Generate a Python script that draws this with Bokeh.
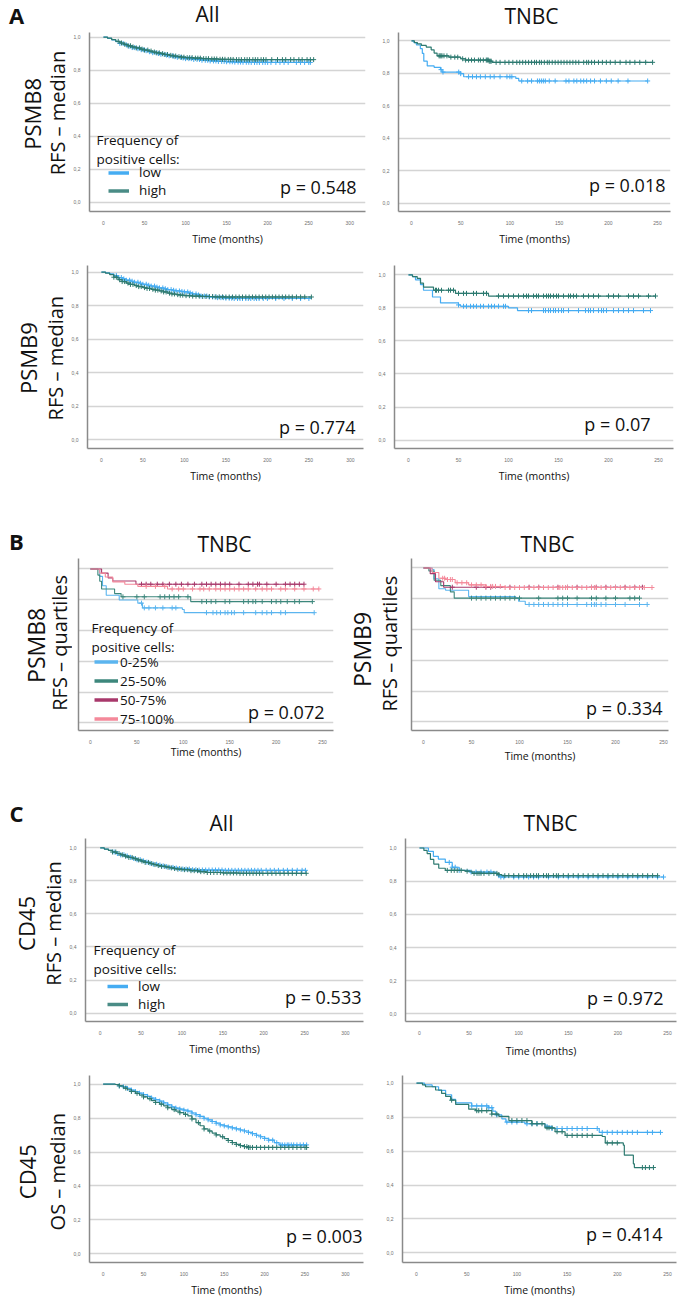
import numpy as np
from bokeh.plotting import figure
from bokeh.layouts import column, row
from bokeh.models import Range1d, FixedTicker, CustomJSTickFormatter, Label, Legend, LegendItem
from bokeh.embed import file_html
from bokeh.resources import INLINE

# ---------------- data ----------------
Y_TICKS = [0.0, 0.2, 0.4, 0.6, 0.8, 1.0]
X_TICKS_ALL = [0, 50, 100, 150, 200, 250, 300]
X_TICKS_TNBC = [0, 50, 100, 150, 200, 250]
GROUPS_MEDIAN = ["low", "high"]
GROUPS_QUART = ["0-25%", "25-50%", "50-75%", "75-100%"]
P_VALUES = {"a1l": "p = 0.548", "a1r": "p = 0.018", "a2l": "p = 0.774", "a2r": "p = 0.07",
            "bl": "p = 0.072", "br": "p = 0.334", "c1l": "p = 0.533", "c1r": "p = 0.972",
            "c2l": "p = 0.003", "c2r": "p = 0.414"}

# A1 left: All, PSMB8, RFS median
a1l_high_t = [0,5,10,15,20,25,30,35,40,45,50,55,60,65,70,75,80,85,90,95,100,110,120,130,140,150,160,256]
a1l_high_s = [1.0,0.994,0.985,0.975,0.965,0.957,0.948,0.941,0.935,0.928,0.922,0.916,0.910,0.905,0.900,0.895,0.890,0.886,0.882,0.879,0.876,0.873,0.870,0.868,0.866,0.865,0.864,0.864]
a1l_high_c = [18,22,26,30,33,36,40,44,47,50,54,58,62,65,68,72,75,78,82,85,88,92,95,98,102,105,108,112,115,118,122,125,128,132,135,138,142,145,148,152,155,158,162,165,168,172,175,178,182,185,188,192,195,198,205,212,218,222,228,232,238,242,248,252,256]
a1l_low_t = [0,5,10,15,20,25,30,35,40,45,50,55,60,65,70,75,80,85,90,95,100,110,120,130,140,150,160,170,180,252]
a1l_low_s = [1.0,0.993,0.984,0.973,0.962,0.953,0.945,0.937,0.930,0.924,0.918,0.912,0.906,0.901,0.896,0.891,0.887,0.882,0.878,0.874,0.870,0.865,0.860,0.856,0.853,0.851,0.849,0.848,0.847,0.847]
a1l_low_c = [20,24,28,31,35,38,42,46,49,52,56,60,64,67,70,74,77,80,84,87,90,94,97,100,104,107,110,114,117,120,124,127,130,134,137,140,144,147,150,154,157,160,164,167,170,174,177,180,184,187,190,194,197,200,204,210,215,220,225,235,240,245,250,252]

# A1 right: TNBC, PSMB8
a1r_high_t = [0,3,6,10,15,20,23,26,38,50,55,79,82,245]
a1r_high_s = [1.0,0.99,0.982,0.972,0.962,0.945,0.925,0.908,0.90,0.89,0.882,0.875,0.868,0.868]
a1r_high_c = [28,29,30,31,33,36,40,44,47,52,55,58,61,64,68,70,73,76,77,78,79,80,81,86,90,95,99,103,107,110,113,116,119,122,125,127,130,132,135,138,140,143,146,149,152,155,158,161,164,167,170,175,178,180,183,186,190,194,198,202,207,212,218,222,227,232,238,245]
a1r_low_t = [0,2.4,5,9,11,12.5,16,23,29.5,31,50,53,106,109,240]
a1r_low_s = [1.0,0.99,0.975,0.952,0.923,0.875,0.846,0.837,0.823,0.808,0.798,0.779,0.769,0.753,0.753]
a1r_low_c = [30,32,48,50,58,62,66,70,75,80,84,90,97,100,102,112,118,122,128,130,132,134,136,140,146,157,160,165,168,172,175,178,182,186,192,198,203,210,220,240]

# A2 left: All, PSMB9
a2l_high_t = [0,5,10,15,20,25,30,35,40,45,50,55,60,65,70,75,80,85,90,95,100,110,120,135,150,253]
a2l_high_s = [1.0,0.994,0.985,0.97,0.955,0.944,0.935,0.927,0.92,0.914,0.908,0.903,0.898,0.893,0.888,0.882,0.875,0.870,0.866,0.863,0.860,0.857,0.855,0.853,0.852,0.852]
a2l_high_c = [15,18,22,25,28,32,35,38,42,45,48,52,55,58,62,65,68,72,75,78,82,85,88,92,95,98,102,106,110,114,118,122,126,130,134,138,142,146,150,154,158,162,166,170,174,178,182,186,190,194,198,202,206,210,214,218,222,226,230,235,240,245,253]
a2l_low_t = [0,5,10,15,20,25,30,35,40,45,50,55,60,65,70,75,80,85,90,95,100,105,110,115,120,130,140,150,160,250]
a2l_low_s = [1.0,0.996,0.99,0.98,0.968,0.96,0.952,0.946,0.94,0.934,0.928,0.922,0.917,0.911,0.906,0.901,0.896,0.892,0.888,0.885,0.882,0.876,0.870,0.864,0.858,0.852,0.848,0.845,0.843,0.843]
a2l_low_c = [18,21,24,27,30,34,37,40,44,47,50,54,57,60,64,67,70,74,77,80,84,87,90,94,97,100,104,107,110,114,117,120,124,127,130,134,137,140,144,147,150,154,157,160,164,167,170,174,177,180,184,187,190,195,200,210,220,230,240,250]

# A2 right: TNBC, PSMB9
a2r_high_t = [0,4,8.7,12,15,25,47,80,247]
a2r_high_s = [1.0,0.99,0.979,0.95,0.926,0.907,0.888,0.872,0.872]
a2r_high_c = [27,28,30,33,40,42,45,50,55,58,65,68,75,78,90,95,100,105,110,115,118,120,125,128,130,135,138,140,142,145,148,150,155,160,162,165,168,175,180,185,190,200,205,210,220,225,230,240,247]
a2r_low_t = [0,4,7,12,15,24,32,50,52,100,109,242]
a2r_low_s = [1.0,0.99,0.97,0.941,0.907,0.866,0.83,0.818,0.81,0.80,0.784,0.784]
a2r_low_c = [50,55,58,62,65,68,72,75,80,83,86,90,95,97,120,123,135,137,140,142,145,147,150,153,155,160,170,177,180,182,185,190,193,195,198,205,210,215,220,225,235,242]

# B left: TNBC, PSMB8 quartiles
bl_q1_t = [0,10,13,17,31,51,56,99,101,241]
bl_q1_s = [1.0,0.952,0.891,0.829,0.798,0.778,0.747,0.737,0.716,0.716]
bl_q1_c = [55,58,63,70,78,88,92,125,132,136,140,145,148,152,155,165,178,185,190,195,205,210,241]
bl_q2_t = [0,8,10,12,26,33,108,239]
bl_q2_s = [1.0,0.96,0.92,0.87,0.84,0.819,0.788,0.788]
bl_q2_c = [35,50,58,75,80,85,90,95,105,120,125,130,135,145,150,165,170,175,178,185,195,200,205,212,220,225,239]
bl_q3_t = [0,12,19,24,49,230]
bl_q3_s = [1.0,0.973,0.942,0.922,0.901,0.901]
bl_q3_c = [55,60,65,72,78,85,92,98,105,112,120,125,130,135,140,145,150,160,170,175,180,182,190,200,210,215,220,225,230]
bl_q4_t = [0,10,16,24,37,51,83,246]
bl_q4_s = [1.0,0.973,0.948,0.916,0.901,0.887,0.870,0.870]
bl_q4_c = [60,70,80,88,95,100,110,118,122,128,135,140,145,150,155,160,165,170,178,185,190,195,205,210,220,230,240,246]

# B right: TNBC, PSMB9 quartiles
br_q1_t = [0,9,11,16,23,47,96,99,106,233]
br_q1_s = [1.0,0.99,0.93,0.865,0.855,0.814,0.804,0.784,0.763,0.763]
br_q1_c = [110,115,120,125,130,135,140,145,150,160,170,175,178,180,185,190,200,210,225,233]
br_q2_t = [0,5.6,11,18,28,32,225]
br_q2_s = [1.0,0.98,0.92,0.885,0.845,0.804,0.804]
br_q2_c = [50,55,60,65,70,75,80,85,90,95,100,120,140,145,150,160,175,180,190,200,215,220,225]
br_q3_t = [0,7,12.5,21,228]
br_q3_s = [1.0,0.963,0.91,0.875,0.875]
br_q3_c = [30,55,65,70,90,110,120,140,150,160,175,180,190,200,210,220,228]
br_q4_t = [0,9,16,23,33,47,65,85,238]
br_q4_s = [1.0,0.97,0.933,0.925,0.904,0.89,0.88,0.873,0.873]
br_q4_c = [20,22,25,28,30,35,40,45,50,55,60,65,70,72,75,80,85,90,95,100,105,110,115,120,125,130,135,140,142,145,148,150,155,160,165,170,175,178,180,185,190,195,200,205,210,215,220,225,230,238]

# C1 left: All, CD45 RFS
c1l_high_t = [0,5,10,15,20,25,30,35,40,45,50,55,60,65,70,75,80,85,90,95,100,110,120,130,150,170,252]
c1l_high_s = [1.0,0.993,0.985,0.975,0.966,0.958,0.95,0.942,0.935,0.927,0.92,0.912,0.905,0.899,0.893,0.888,0.883,0.879,0.875,0.871,0.868,0.862,0.856,0.851,0.848,0.846,0.846]
c1l_high_c = [15,19,23,27,31,35,39,43,47,51,55,59,63,67,71,75,79,83,87,91,95,99,103,107,111,115,119,123,127,131,135,139,143,147,151,155,159,163,167,171,175,179,183,187,191,195,199,205,210,215,220,225,230,235,240,246,252]
c1l_low_t = [0,5,10,15,20,25,30,35,40,45,50,55,60,65,70,75,80,85,90,95,100,110,120,150,251]
c1l_low_s = [1.0,0.993,0.985,0.975,0.966,0.958,0.951,0.943,0.936,0.928,0.921,0.914,0.907,0.901,0.896,0.891,0.886,0.882,0.878,0.875,0.872,0.868,0.866,0.864,0.864]
c1l_low_c = [17,21,25,29,33,37,41,45,49,53,57,61,65,69,73,77,81,85,89,93,97,101,105,109,113,117,121,125,129,133,137,141,145,149,153,157,161,165,169,173,177,181,185,189,193,197,203,208,213,218,224,229,235,241,247,251]

# C1 right: TNBC, CD45 RFS
c1r_high_t = [0,4.4,7.7,11,14.4,19.4,26,46,53,80,83,240]
c1r_high_s = [1.0,0.985,0.966,0.931,0.903,0.878,0.865,0.86,0.847,0.84,0.833,0.833]
c1r_high_c = [28,32,35,38,42,48,55,58,60,62,65,70,75,78,80,86,90,95,100,105,108,112,115,118,120,125,128,130,135,138,140,145,150,155,160,165,170,175,180,185,190,195,200,205,210,215,220,225,230,235,240]
c1r_low_t = [0,9,14,19,26,33,40,51,77,80,82,246]
c1r_low_s = [1.0,0.98,0.95,0.933,0.913,0.884,0.865,0.855,0.845,0.833,0.825,0.825]
c1r_low_c = [30,33,36,40,52,57,62,68,72,80,82,85,95,100,105,110,115,120,130,140,150,160,170,180,190,200,210,220,230,240,246]

# C2 left: All, CD45 OS
c2l_low_t = [0,15,20,25,30,35,40,45,50,55,60,65,70,75,80,85,90,95,100,105,110,115,120,125,130,135,140,145,150,155,160,165,170,175,180,185,190,195,200,205,212,218,252]
c2l_low_s = [1.0,0.998,0.99,0.985,0.975,0.965,0.956,0.947,0.938,0.928,0.918,0.909,0.9,0.89,0.878,0.866,0.859,0.853,0.847,0.841,0.83,0.82,0.81,0.799,0.79,0.78,0.77,0.76,0.754,0.748,0.742,0.736,0.73,0.724,0.716,0.708,0.699,0.69,0.68,0.67,0.655,0.642,0.642]
c2l_low_c = [20,25,30,35,40,45,50,55,60,65,70,75,80,85,90,95,100,105,110,115,120,125,130,135,140,145,150,155,160,165,170,175,180,185,190,195,200,205,210,215,220,222,225,228,230,233,236,240,244,248,252]
c2l_high_t = [0,15,20,25,30,35,40,45,50,55,60,65,70,75,80,85,90,95,100,105,110,115,120,125,130,135,140,145,150,155,160,165,170,175,180,252]
c2l_high_s = [1.0,0.998,0.99,0.977,0.967,0.957,0.946,0.936,0.925,0.914,0.903,0.892,0.882,0.872,0.861,0.85,0.841,0.832,0.822,0.813,0.795,0.773,0.755,0.736,0.724,0.712,0.701,0.69,0.679,0.668,0.656,0.645,0.638,0.632,0.627,0.627]
c2l_high_c = [20,28,35,42,50,58,65,72,80,88,95,102,110,118,125,132,140,148,155,160,165,170,175,178,180,182,185,190,195,200,205,210,215,220,225,230,235,240,245,250,252]

# C2 right: TNBC, CD45 OS
c2r_low_t = [0,8,15.6,22,29,35,39,55,72,76,79,85,89,108,128,135,182,243]
c2r_low_s = [1.0,0.99,0.979,0.958,0.932,0.905,0.884,0.866,0.856,0.835,0.813,0.79,0.771,0.761,0.745,0.733,0.71,0.71]
c2r_low_c = [55,60,65,70,72,75,80,90,95,100,110,115,120,130,135,140,145,150,155,160,165,170,180,185,190,195,200,205,210,215,220,230,235,243]
c2r_high_t = [0,6,9,19,25,29,34,39,52,59,75,82,92,115,128,138,148,185,188,206,207,216,217,236]
c2r_high_s = [1.0,0.99,0.979,0.96,0.94,0.922,0.9,0.875,0.847,0.838,0.818,0.805,0.78,0.761,0.737,0.714,0.692,0.686,0.648,0.635,0.576,0.525,0.503,0.503]
c2r_high_c = [35,60,62,65,70,75,80,95,100,105,110,115,120,125,130,132,135,140,145,150,155,160,165,170,175,190,195,200,225,228,232,236]

# ---------------- style / layout ----------------
BLUE = "#45acf2"
TEAL = "#2d7a70"
LEG_TEAL = "#4a8c86"
Q_COLORS = ["#5bb5ef", "#3d877c", "#a8386b", "#f4899a"]
FONT = "Open Sans"
TXT = "#111111"

# page geometry (px): fig box (x, y, w, h), frame (L, R, T, B),
# x: (px at t=0, px per month), y: (px at 1.0, px at 0.0), offset of "Time" label below axis
GEOM = {
    "a1l": dict(fig=(70, 28, 302, 220), frame=(88, 365, 32, 222), x=(102, 0.824), y=(37, 212), tl=19),
    "a1r": dict(fig=(372, 28, 313, 220), frame=(398, 670, 31, 222), x=(411, 0.984), y=(40, 213), tl=20),
    "a2l": dict(fig=(68, 248, 304, 237), frame=(85, 363, 265, 457), x=(99, 0.836), y=(272, 448), tl=20),
    "a2r": dict(fig=(372, 248, 313, 237), frame=(394, 673, 263, 458), x=(408, 1.0), y=(273, 449), tl=20),
    "bl": dict(fig=(72, 557, 273, 208), frame=(77, 333, 558, 739), x=(89, 0.932), y=(569, 731), tl=14),
    "br": dict(fig=(402, 557, 283, 208), frame=(411, 668, 558, 740), x=(423, 0.96), y=(568, 731), tl=17),
    "c1l": dict(fig=(66, 836, 306, 224), frame=(80, 363, 837, 1032), x=(95, 0.832), y=(847, 1023), tl=20),
    "c1r": dict(fig=(372, 836, 313, 224), frame=(405, 676, 838, 1031), x=(419, 0.992), y=(848, 1023), tl=22),
    "c2l": dict(fig=(70, 1060, 302, 239), frame=(82, 363, 1073, 1267), x=(96, 0.828), y=(1082, 1258), tl=20),
    "c2r": dict(fig=(372, 1060, 313, 239), frame=(402, 676, 1075, 1269), x=(416, 1.004), y=(1083, 1259), tl=19),
}


def make_fig(key, xticks, ylabels=True):
    g = GEOM[key]
    fx, fy, w, h = g["fig"]
    L, R, T, B = g["frame"]
    x0, ppm = g["x"]
    y1, y0 = g["y"]
    xr = Range1d((L - x0) / ppm, (R - x0) / ppm)
    yr = Range1d((y0 - B) / (y0 - y1), (y0 - T) / (y0 - y1))
    p = figure(width=w, height=h, x_range=xr, y_range=yr, output_backend="svg",
               toolbar_location=None, title=None,
               min_border_left=L - fx, min_border_right=fx + w - R,
               min_border_top=T - fy, min_border_bottom=fy + h - B,
               outline_line_color=None, background_fill_color="white",
               border_fill_color="white")
    p.xgrid.visible = False
    p.ygrid.ticker = FixedTicker(ticks=Y_TICKS)
    p.ygrid.grid_line_color = "#d4d4d4"
    p.ygrid.grid_line_width = 1.5
    p.xaxis.ticker = FixedTicker(ticks=xticks)
    p.yaxis.ticker = FixedTicker(ticks=Y_TICKS)
    if ylabels:
        p.yaxis.formatter = CustomJSTickFormatter(code="return tick.toFixed(1).replace('.', ',');")
    else:
        p.yaxis.formatter = CustomJSTickFormatter(code="return '';")
    for ax in (p.xaxis[0], p.yaxis[0]):
        ax.axis_line_color = "#8a8a8a"
        ax.axis_line_width = 1.5
        ax.major_tick_line_color = None
        ax.minor_tick_line_color = None
        ax.major_label_text_font_size = "5px"
        ax.major_label_text_color = "#707070"
        ax.major_label_text_font = "Liberation Sans"
        ax.major_label_standoff = 3
    if not ylabels:
        p.yaxis.major_label_standoff = 0
    xa = p.xaxis[0]
    xa.axis_label = "Time (months)"
    xa.axis_label_text_font = FONT
    xa.axis_label_text_font_size = "10.5px"
    xa.axis_label_text_font_style = "normal"
    xa.axis_label_text_color = TXT
    xa.axis_label_standoff = int(round(g["tl"] - 15.5))
    return p


def text_fig(x, y, w, h):
    p = figure(width=w, height=h, x_range=Range1d(x, x + w), y_range=Range1d(-(y + h), -y),
               output_backend="svg", toolbar_location=None, title=None,
               x_axis_location=None, y_axis_location=None, min_border=0,
               outline_line_color=None, background_fill_color="white", border_fill_color="white")
    for g in p.grid:
        g.visible = False
    p.xgrid.visible = False
    p.ygrid.visible = False
    return p


def put(p, px, py, s, size, bold=False, angle=0.0, align="center"):
    p.add_layout(Label(x=px, y=-py, text=s, text_font=FONT, text_font_size=f"{size}px",
                       text_align=align, text_baseline="middle", angle=angle, text_color=TXT,
                       text_font_style="bold" if bold else "normal"))


def km(p, t, s, c, color, lw=1.2):
    r = p.step(t, s, mode="after", line_color=color, line_width=lw)
    ta = np.asarray(t, dtype=float)
    sa = np.asarray(s, dtype=float)
    ca = np.asarray(c, dtype=float)
    idx = np.clip(np.searchsorted(ta, ca, side="right") - 1, 0, len(sa) - 1)
    p.scatter(ca, sa[idx], marker="cross", size=5, line_color=color, line_width=1)
    return r


def text(p, key, px, py, s, size, bold=False, angle=0.0, align="center"):
    L, R, T, B = GEOM[key]["frame"]
    p.add_layout(Label(x=px - L, y=B - py, x_units="screen", y_units="screen", text=s,
                       text_font=FONT, text_font_size=f"{size}px", text_align=align,
                       text_baseline="middle", angle=angle, text_color=TXT,
                       text_font_style="bold" if bold else "normal"))


def legend(p, key, labels, colors, glyph_x, first_y, item_h, glyph_w, label_x, size):
    L, R, T, B = GEOM[key]["frame"]
    items = []
    for lab, col in zip(labels, colors):
        proxy = p.line(x=[np.nan], y=[np.nan], line_color=col, line_width=3.5)
        items.append(LegendItem(label=lab, renderers=[proxy]))
    bottom = first_y - item_h / 2 + len(labels) * item_h
    leg = Legend(items=items, location=(int(round(glyph_x - L)), max(2, int(round(B - bottom)))),
                 padding=0, margin=0, spacing=0, glyph_width=glyph_w, glyph_height=int(round(item_h)),
                 label_height=int(round(item_h)), label_standoff=int(label_x - glyph_x - glyph_w),
                 label_text_font=FONT, label_text_font_size=f"{size}px", label_text_color=TXT,
                 border_line_color=None, background_fill_alpha=0)
    p.add_layout(leg)


def ptext(p, key, px, py):
    text(p, key, px, py, P_VALUES[key], 18, align="right")


ROT = np.pi / 2

# ---------------- A ----------------
hdr_a = text_fig(0, 0, 685, 28)
put(hdr_a, 16, 14, "A", 22, bold=True)
put(hdr_a, 207, 13, "All", 21)
put(hdr_a, 531, 15, "TNBC", 21)

lbl_a1 = text_fig(0, 28, 70, 220)
put(lbl_a1, 31, 128, "PSMB8", 22, angle=ROT)
put(lbl_a1, 57, 127, "RFS \u2013 median", 20, angle=ROT)

a1l = make_fig("a1l", X_TICKS_ALL)
km(a1l, a1l_low_t, a1l_low_s, a1l_low_c, BLUE)
km(a1l, a1l_high_t, a1l_high_s, a1l_high_c, TEAL)
text(a1l, "a1l", 95, 150, "Frequency of", 13.5, align="left")
text(a1l, "a1l", 95, 169, "positive cells:", 13.5, align="left")
legend(a1l, "a1l", GROUPS_MEDIAN, [BLUE, LEG_TEAL], 107, 187, 15, 21, 138, 13.5)
ptext(a1l, "a1l", 355, 197)

a1r = make_fig("a1r", X_TICKS_TNBC)
km(a1r, a1r_low_t, a1r_low_s, a1r_low_c, BLUE)
km(a1r, a1r_high_t, a1r_high_s, a1r_high_c, TEAL)
ptext(a1r, "a1r", 665, 195)

lbl_a2 = text_fig(0, 248, 68, 237)
put(lbl_a2, 27, 368, "PSMB9", 22, angle=ROT)
put(lbl_a2, 55, 368, "RFS \u2013 median", 20, angle=ROT)

a2l = make_fig("a2l", X_TICKS_ALL)
km(a2l, a2l_low_t, a2l_low_s, a2l_low_c, BLUE)
km(a2l, a2l_high_t, a2l_high_s, a2l_high_c, TEAL)
ptext(a2l, "a2l", 353, 435)

a2r = make_fig("a2r", X_TICKS_TNBC)
km(a2r, a2r_low_t, a2r_low_s, a2r_low_c, BLUE)
km(a2r, a2r_high_t, a2r_high_s, a2r_high_c, TEAL)
ptext(a2r, "a2r", 650, 433)

# ---------------- B ----------------
hdr_b = text_fig(0, 485, 685, 72)
put(hdr_b, 16, 540, "B", 22, bold=True)
put(hdr_b, 224, 543, "TNBC", 21)
put(hdr_b, 547, 543, "TNBC", 21)

lbl_bl = text_fig(0, 557, 72, 208)
put(lbl_bl, 35, 662, "PSMB8", 23, angle=ROT)
put(lbl_bl, 59, 659, "RFS \u2013 quartiles", 20, angle=ROT)

bl = make_fig("bl", X_TICKS_TNBC, ylabels=False)
for t, s, c, col in zip([bl_q1_t, bl_q2_t, bl_q3_t, bl_q4_t], [bl_q1_s, bl_q2_s, bl_q3_s, bl_q4_s],
                        [bl_q1_c, bl_q2_c, bl_q3_c, bl_q4_c], Q_COLORS):
    km(bl, t, s, c, col, lw=1.1)
text(bl, "bl", 90, 636, "Frequency of", 13.5, align="left")
text(bl, "bl", 90, 655, "positive cells:", 13.5, align="left")
legend(bl, "bl", GROUPS_QUART, Q_COLORS, 93, 673, 18.67, 24, 119, 13.5)
ptext(bl, "bl", 323, 720)

lbl_br = text_fig(345, 557, 57, 208)
put(lbl_br, 361, 667, "PSMB9", 23, angle=ROT)
put(lbl_br, 389, 660, "RFS \u2013 quartiles", 20, angle=ROT)

br = make_fig("br", X_TICKS_TNBC, ylabels=False)
for t, s, c, col in zip([br_q1_t, br_q2_t, br_q3_t, br_q4_t], [br_q1_s, br_q2_s, br_q3_s, br_q4_s],
                        [br_q1_c, br_q2_c, br_q3_c, br_q4_c], Q_COLORS):
    km(br, t, s, c, col, lw=1.1)
ptext(br, "br", 662, 717)

# ---------------- C ----------------
hdr_c = text_fig(0, 765, 685, 71)
put(hdr_c, 16, 812, "C", 22, bold=True)
put(hdr_c, 221, 822, "All", 21)
put(hdr_c, 550, 822, "TNBC", 21)

lbl_c1 = text_fig(0, 836, 66, 224)
put(lbl_c1, 25, 940, "CD45", 22, angle=ROT)
put(lbl_c1, 53, 940, "RFS \u2013 median", 20, angle=ROT)

c1l = make_fig("c1l", X_TICKS_ALL)
km(c1l, c1l_low_t, c1l_low_s, c1l_low_c, BLUE)
km(c1l, c1l_high_t, c1l_high_s, c1l_high_c, TEAL)
text(c1l, "c1l", 88, 960, "Frequency of", 13.5, align="left")
text(c1l, "c1l", 88, 979, "positive cells:", 13.5, align="left")
legend(c1l, "c1l", GROUPS_MEDIAN, [BLUE, LEG_TEAL], 102, 997, 18, 21, 133, 13.5)
ptext(c1l, "c1l", 356, 1007)

c1r = make_fig("c1r", X_TICKS_TNBC)
km(c1r, c1r_low_t, c1r_low_s, c1r_low_c, BLUE)
km(c1r, c1r_high_t, c1r_high_s, c1r_high_c, TEAL)
ptext(c1r, "c1r", 663, 1007)

lbl_c2 = text_fig(0, 1060, 70, 239)
put(lbl_c2, 26, 1183, "CD45", 22, angle=ROT)
put(lbl_c2, 57, 1183, "OS \u2013 median", 20, angle=ROT)

c2l = make_fig("c2l", X_TICKS_ALL)
km(c2l, c2l_low_t, c2l_low_s, c2l_low_c, BLUE)
km(c2l, c2l_high_t, c2l_high_s, c2l_high_c, TEAL)
ptext(c2l, "c2l", 355, 1240)

c2r = make_fig("c2r", X_TICKS_TNBC)
km(c2r, c2r_low_t, c2r_low_s, c2r_low_c, BLUE)
km(c2r, c2r_high_t, c2r_high_s, c2r_high_c, TEAL)
ptext(c2r, "c2r", 662, 1240)

layout = column(
    hdr_a,
    row(lbl_a1, a1l, a1r),
    row(lbl_a2, a2l, a2r),
    hdr_b,
    row(lbl_bl, bl, lbl_br, br),
    hdr_c,
    row(lbl_c1, c1l, c1r),
    row(lbl_c2, c2l, c2r),
)

with open("out.html", "w") as f:
    f.write(file_html(layout, INLINE))
